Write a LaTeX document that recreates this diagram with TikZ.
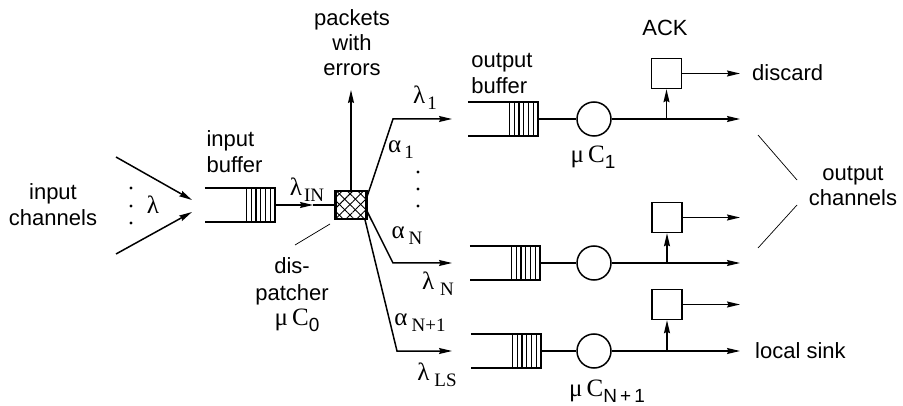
\documentclass[tikz,border=0pt]{standalone}
\usepackage{fontspec}
\setmainfont{Liberation Sans}
\newfontfamily\ser{Liberation Serif}
\usetikzlibrary{arrows.meta,patterns.meta}
\newcommand\sbs[1]{\raisebox{-6pt}{\fontsize{19}{19}\selectfont #1}}
\newcommand\gl[3][2pt]{{\ser #2\kern#1\sbs{#3}}}
\tikzset{
  x=1pt,y=-1pt,
  every node/.style={font=\fontsize{22}{26}\selectfont, inner sep=0pt},
  ln/.style={line width=1.5pt},
  arr/.style={ln,-{Stealth[length=13pt,width=6pt,inset=1.5pt]}},
  bufnode/.style={minimum width=70pt, minimum height=34pt, draw=none},
  bufline/.style={line width=2.5pt, line join=miter},
  slot/.style={line width=1.2pt},
  srv/.style={circle, draw, ln, minimum size=34pt},
  ackbox/.style={draw, ln, minimum size=30pt},
  disp/.style={draw, line width=2.2pt, minimum width=31pt, minimum height=28pt,
    pattern={Lines[angle=45,distance=7.5pt,line width=.9pt]},
    preaction={pattern={Lines[angle=-45,distance=7.5pt,line width=.9pt]}}},
  ptr/.style={line width=0.7pt},
  lbl/.style={font=\fontsize{25}{27}\selectfont},
  dotn/.style={circle, fill, minimum size=3.4pt},
}
\newcommand\qbuf[3]{%
  \node[bufnode] (#1) at (#2,#3) {};
  \draw[bufline] (#1.north west) -- (#1.north east) -- (#1.south east) -- (#1.south west);
  \foreach \k in {1,...,6}{\draw[slot] ([xshift=-\k*4.8pt]#1.north east) -- ([xshift=-\k*4.8pt]#1.south east);}
}
\begin{document}
\begin{tikzpicture}
\useasboundingbox (0,0) rectangle (903,406);

% input side
\node[align=center] (inch) at (53,205) {input\\channels};
\coordinate (i1s) at (116,157); \coordinate (i1e) at (192,200);
\coordinate (i2s) at (116,254); \coordinate (i2e) at (192,212);
\draw[arr] (i1s) -- (i1e);
\draw[arr] (i2s) -- (i2e);
\node[dotn] (dA) at (131,188) {};
\node[dotn] (dB) at (131,206) {};
\node[dotn] (dC) at (131,223) {};
\node[lbl] (lam) at (153,205) {\ser λ};

\qbuf{ib}{240}{205}
\node[align=left] (iblab) at (234.5,152) {input\\buffer};

% dispatcher
\node[disp] (dsp) at (351,205) {};
\coordinate (mid) at (313,205);
\draw[arr] (ib.east) -- (mid);
\draw[ln] (mid) -- (dsp.west);
\node[lbl] (lin) at (307,190) {\gl{λ}{IN}};
\coordinate (err) at (351,90);
\draw[arr] (dsp.north) -- (err);
\node[align=center, font=\fontsize{22}{25}\selectfont] (pkt) at (352,43) {packets\\with\\errors};
\node[align=center, font=\fontsize{22}{27}\selectfont] (dlab) at (292,281) {dis-\\patcher};
\node[lbl] (mc0) at (297,320) {{\ser μ\,C}\sbs{0}};
\coordinate (pa) at (295,245); \coordinate (pb) at (330,224);
\draw[ptr] (pa) -- (pb);

% branches
\coordinate (k1) at (393,119); \coordinate (t1) at (452,119);
\coordinate (kN) at (393,263); \coordinate (tN) at (452,263);
\coordinate (kL) at (397,351); \coordinate (tL) at (452,351);
\draw[arr] ([yshift=8pt]dsp.east) -- (k1) -- (t1);
\draw[arr] ([yshift=-6pt]dsp.east) -- (kN) -- (tN);
\draw[arr] ([xshift=-2pt]dsp.south east) -- (kL) -- (tL);
\node[lbl] (l1) at (425,98) {\gl{λ}{1}};
\node[lbl] (a1) at (401,150) {\gl[3pt]{α}{1}};
\node[dotn] (dD) at (418,172) {};
\node[dotn] (dE) at (418,189) {};
\node[dotn] (dF) at (418,206) {};
\node[lbl] (aN) at (407,236) {\gl[4pt]{α}{N}};
\node[lbl] (lN) at (438,284) {\gl[6pt]{λ}{N}};
\node[lbl] (aN1) at (420,323) {\gl[4pt]{α}{N+1}};
\node[lbl] (lLS) at (437,375) {\gl[5pt]{λ}{LS}};

% output buffers
\node[align=left] (oblab) at (502,73) {output\\buffer};
\qbuf{ob1}{503}{119}
\qbuf{obN}{505}{263}
\qbuf{obL}{506}{351}

% servers
\node[srv] (s1) at (594,119) {};
\node[srv] (sN) at (594,263) {};
\node[srv] (sL) at (594,351) {};
\draw[ln] (ob1.east) -- (s1.west);
\draw[ln] (obN.east) -- (sN.west);
\draw[ln] (obL.east) -- (sL.west);
\node[lbl] (mc1) at (593,157) {{\ser μ\,C}\sbs{1}};
\node[lbl] (mcN) at (607,391) {{\ser μ\,C}\sbs{N\,+\,1}};

% ACK boxes
\node[ackbox] (ak1) at (666.5,73.5) {};
\node[ackbox] (akN) at (667,217.5) {};
\node[ackbox] (akL) at (667,304.5) {};
\node (ack) at (665,28) {ACK};

\coordinate (e1) at (740,119); \coordinate (eN) at (740,263); \coordinate (eL) at (740,351);
\coordinate (j1) at (666.5,119); \coordinate (jN) at (667,263); \coordinate (jL) at (667,351);
\draw[arr] (s1.east) -- (e1);
\draw[arr] (sN.east) -- (eN);
\draw[arr] (sL.east) -- (eL);
\draw[arr] (j1) -- (ak1.south);
\draw[arr] (jN) -- (akN.south);
\draw[arr] (jL) -- (akL.south);
\coordinate (f1) at (740,73.5); \coordinate (fN) at (740,217.5); \coordinate (fL) at (740,304.5);
\draw[arr] (ak1.east) -- (f1);
\draw[arr] (akN.east) -- (fN);
\draw[arr] (akL.east) -- (fL);

% right labels
\node[anchor=west] (disc) at (752,73) {discard};
\node[anchor=west] (sink) at (755,351) {local sink};
\node[align=center, font=\fontsize{22}{25}\selectfont] (och) at (853,186) {output\\channels};
\coordinate (q1a) at (758,135); \coordinate (q1b) at (797,180);
\coordinate (q2a) at (758,248); \coordinate (q2b) at (797,205);
\draw[ptr] (q1a) -- (q1b);
\draw[ptr] (q2a) -- (q2b);
\end{tikzpicture}
\end{document}
